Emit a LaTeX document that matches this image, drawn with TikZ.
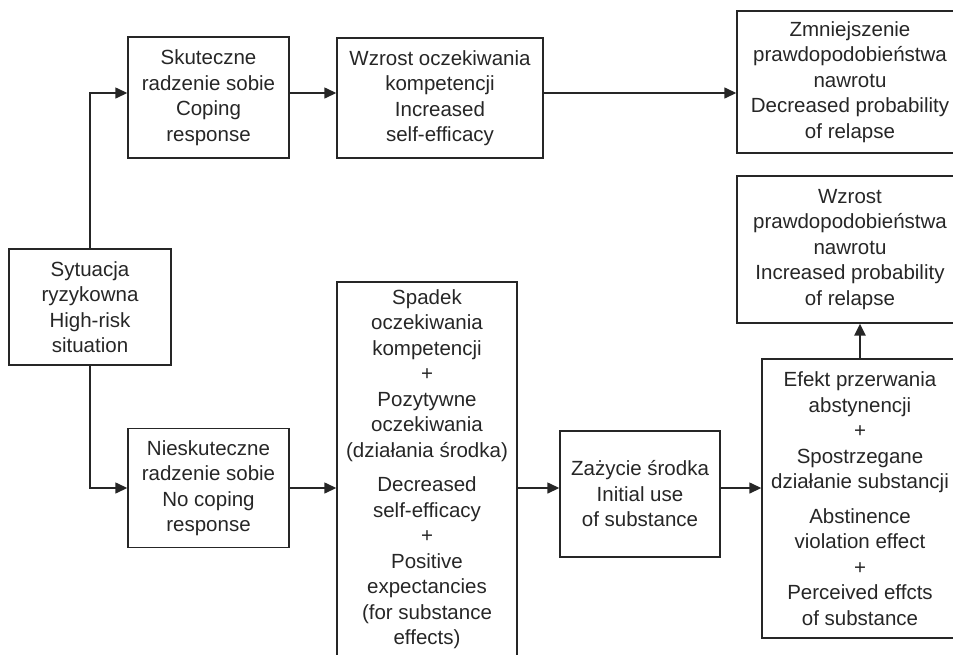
\documentclass[tikz,border=0pt]{standalone}
\usepackage{fontspec}
\setmainfont{Liberation Sans}
\usetikzlibrary{arrows.meta}
\definecolor{linia}{HTML}{262626}
\begin{document}
\begin{tikzpicture}[x=1pt, y=-1pt,
  every node/.style={font=\fontsize{20.5}{25.5}\selectfont, text=linia},
  blok/.style={draw=linia, line width=1.4pt, align=center, inner sep=0pt},
  strz/.style={draw=linia, line width=1.4pt, -{Triangle[length=12pt,width=11pt]}}]
  \useasboundingbox (0,0) rectangle (953,654);

  \node[blok, minimum width=162, minimum height=116] (syt) at (90,307)
    {Sytuacja\\ryzykowna\\High-risk\\situation};
  \node[blok, minimum width=161, minimum height=121] (skut) at (208.5,97.5)
    {Skuteczne\\radzenie sobie\\Coping\\response};
  \node[blok, minimum width=206, minimum height=120] (wzo) at (440,98)
    {Wzrost oczekiwania\\kompetencji\\Increased\\self-efficacy};
  \node[blok, minimum width=226, minimum height=142] (zmn) at (850,82)
    {Zmniejszenie\\prawdopodobieństwa\\nawrotu\\Decreased probability\\of relapse};
  \node[blok, minimum width=226, minimum height=147] (wzp) at (850,249.5)
    {Wzrost\\prawdopodobieństwa\\nawrotu\\Increased probability\\of relapse};
  \node[blok, minimum width=161, minimum height=119] (nies) at (208.5,488)
    {Nieskuteczne\\radzenie sobie\\No coping\\response};
  \node[blok, minimum width=180, minimum height=374] (spad) at (427,469)
    {Spadek\\oczekiwania\\kompetencji\\+\\Pozytywne\\oczekiwania\\(działania środka)\\[9pt]
     Decreased\\self-efficacy\\+\\Positive\\expectancies\\(for substance\\effects)};
  \node[blok, minimum width=196, minimum height=279] (efekt) at (860,498.5)
    {Efekt przerwania\\abstynencji\\+\\Spostrzegane\\działanie substancji\\[9pt]
     Abstinence\\violation effect\\+\\Perceived effcts\\of substance};
  \node[blok, minimum width=160, minimum height=126] (zaz) at (640,494)
    {Zażycie środka\\Initial use\\of substance};

  \coordinate (gora) at (0,93);

  \draw[strz] (syt.north) |- (skut.west |- gora);
  \draw[strz] (skut.east |- gora) -- (wzo.west |- gora);
  \draw[strz] (wzo.east |- gora) -- (zmn.west |- gora);

  \draw[strz] (syt.south) |- (nies.west);
  \draw[strz] (nies.east) -- (nies.east -| spad.west);
  \draw[strz] (spad.east |- nies.east) -- (zaz.west |- nies.east);
  \draw[strz] (zaz.east |- nies.east) -- (efekt.west |- nies.east);

  \draw[strz, line width=2.6pt] (efekt.north) -- (efekt.north |- wzp.south);
\end{tikzpicture}
\end{document}
